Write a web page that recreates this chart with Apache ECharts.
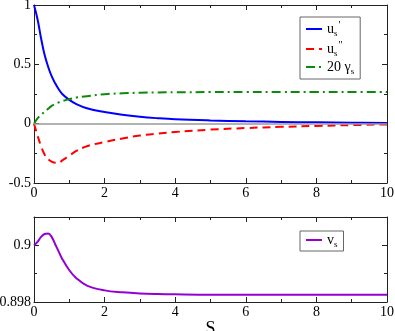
<!DOCTYPE html>
<html>
<head>
<meta charset="utf-8">
<style>
  html, body { margin: 0; padding: 0; background: #fff; }
  #main { width: 395px; height: 331px; }
</style>
</head>
<body>
<div id="main"></div>
<script src="https://cdn.jsdelivr.net/npm/echarts@6/dist/echarts.min.js"></script>
<script type="text/javascript">
    // sample points along S
    var sVals = [0, 0.1, 0.2, 0.3, 0.4, 0.5, 0.6, 0.7, 0.8, 1.0, 1.2, 1.5, 2, 2.5, 3, 3.5, 4, 5, 6, 7, 8, 9, 10];
    var uPrime = [1, 0.88, 0.72, 0.58, 0.48, 0.40, 0.34, 0.29, 0.25, 0.20, 0.165, 0.13, 0.098, 0.075, 0.058, 0.046, 0.037, 0.027, 0.020, 0.015, 0.011, 0.008, 0.006];
    var uDouble = [0, -0.10, -0.19, -0.26, -0.30, -0.32, -0.33, -0.33, -0.31, -0.27, -0.23, -0.19, -0.155, -0.125, -0.10, -0.083, -0.07, -0.05, -0.037, -0.027, -0.019, -0.012, -0.006];
    var gamma20 = [0, 0.045, 0.075, 0.10, 0.125, 0.15, 0.165, 0.18, 0.19, 0.207, 0.22, 0.232, 0.248, 0.256, 0.261, 0.263, 0.265, 0.266, 0.267, 0.267, 0.267, 0.267, 0.267];
    var vS = [0.9, 0.90012, 0.9003, 0.9004, 0.90042, 0.9003, 0.90004, 0.89978, 0.89952, 0.89912, 0.89884, 0.89858, 0.89841, 0.89834, 0.8983, 0.89828, 0.89827, 0.89826, 0.89826, 0.89826, 0.89826, 0.89826, 0.89826];

    function pairs(ys) {
        return sVals.map(function (s, i) { return [s, ys[i]]; });
    }

    var font = 'Liberation Serif';
    // legend labels with subscripts
    var legendText = {
        "us'": '{b|u}{s|s}{p|\'}',
        "us''": '{b|u}{s|s}{p|\'\'}',
        'gs': '{b|20 γ}{s|s}',
        'vs': '{b|v}{s|s}'
    };
    var rich = {
        b: { fontFamily: font, fontSize: 14, color: '#000' },
        s: { fontFamily: font, fontSize: 9, color: '#000', padding: [9, 0, 0, 0] },
        p: { fontFamily: font, fontSize: 11, color: '#000', padding: [0, 0, 7, 1] }
    };

    function xAx(grid, pos, labels) {
        return {
            type: 'value', gridIndex: grid, position: pos, min: 0, max: 10, interval: 2,
            axisLine: { onZero: false, lineStyle: { color: '#222', width: 1 } },
            axisTick: { inside: true, length: 5, lineStyle: { color: '#222' } },
            minorTick: { show: true, splitNumber: 2, length: 3, lineStyle: { color: '#222' } },
            axisLabel: { show: labels, margin: 3, color: '#000', fontFamily: font, fontSize: 14 },
            splitLine: { show: false }
        };
    }
    function yAx(grid, pos, labels, min, max, step) {
        return {
            type: 'value', gridIndex: grid, position: pos, min: min, max: max, interval: step,
            axisLine: { onZero: false, lineStyle: { color: '#222', width: 1 } },
            axisTick: { inside: true, length: 5, lineStyle: { color: '#222' } },
            minorTick: { show: true, splitNumber: 2, length: 3, lineStyle: { color: '#222' } },
            axisLabel: { show: labels, margin: 3, color: '#000', fontFamily: font, fontSize: 14 },
            splitLine: { show: false }
        };
    }

    var bottomX = xAx(1, 'bottom', true);
    bottomX.name = 'S';
    bottomX.nameLocation = 'middle';
    bottomX.nameGap = 13;
    bottomX.nameTextStyle = { fontFamily: font, fontSize: 18, color: '#000' };
    var bottomY = yAx(1, 'left', true, 0.898, 0.901, 0.002);
    bottomY.axisLabel.showMaxLabel = false;

    var myChart = echarts.init(document.getElementById('main'));
    var option = {
        animation: false,
        grid: [
            { left: 34, top: 5, width: 353, height: 178, outerBoundsMode: 'none' },
            { left: 34, top: 217, width: 353, height: 85, outerBoundsMode: 'none' }
        ],
        legend: [
            {
                data: ["us'", "us''", 'gs'],
                orient: 'vertical', left: 300, top: 17,
                borderColor: '#666', borderWidth: 1, padding: [3, 6, 3, 5],
                itemWidth: 16, itemHeight: 10, itemGap: 2,
                itemStyle: { opacity: 0 },
                formatter: function (n) { return legendText[n]; },
                textStyle: { rich: rich }
            },
            {
                data: ['vs'],
                orient: 'vertical', left: 300, top: 231,
                borderColor: '#666', borderWidth: 1, padding: [2, 6, 2, 5],
                itemWidth: 16, itemHeight: 10,
                itemStyle: { opacity: 0 },
                formatter: function (n) { return legendText[n]; },
                textStyle: { rich: rich }
            }
        ],
        xAxis: [xAx(0, 'bottom', true), xAx(0, 'top', false), bottomX, xAx(1, 'top', false)],
        yAxis: [
            yAx(0, 'left', true, -0.5, 1, 0.5),
            yAx(0, 'right', false, -0.5, 1, 0.5),
            bottomY,
            yAx(1, 'right', false, 0.898, 0.901, 0.002)
        ],
        series: [
            {
                name: "us'", type: 'line', xAxisIndex: 0, yAxisIndex: 0, data: pairs(uPrime),
                smooth: 0.4, symbol: 'none', color: '#0000ff',
                lineStyle: { color: '#0000ff', width: 2 },
                markLine: {
                    silent: true, symbol: 'none', label: { show: false },
                    lineStyle: { color: '#999', type: 'solid', width: 1.5 },
                    data: [{ yAxis: 0 }]
                }
            },
            {
                name: "us''", type: 'line', xAxisIndex: 0, yAxisIndex: 0, data: pairs(uDouble),
                smooth: 0.4, symbol: 'none', color: '#ff0000',
                lineStyle: { color: '#ff0000', width: 2, type: [8, 5] }
            },
            {
                name: 'gs', type: 'line', xAxisIndex: 0, yAxisIndex: 0, data: pairs(gamma20),
                smooth: 0.4, symbol: 'none', color: '#0b8b0b',
                lineStyle: { color: '#0b8b0b', width: 2, type: [9, 4, 2, 4] }
            },
            {
                name: 'vs', type: 'line', xAxisIndex: 2, yAxisIndex: 2, data: pairs(vS),
                smooth: 0.4, symbol: 'none', color: '#9400d3',
                lineStyle: { color: '#9400d3', width: 2 }
            }
        ]
    };

    myChart.setOption(option);
</script>
</body>
</html>
